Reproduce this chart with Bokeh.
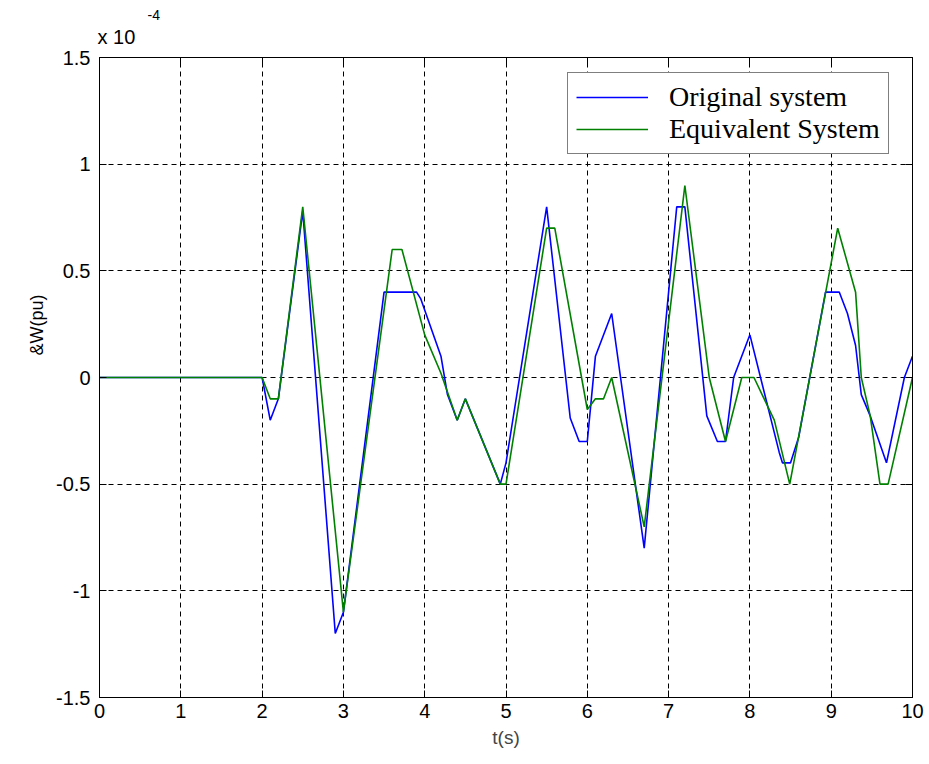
from bokeh.plotting import figure
from bokeh.models import (LinearAxis, FixedTicker, Legend, LegendItem,
                          Range1d, Title)
from bokeh.embed import file_html
from bokeh.resources import INLINE

# values in units of 1e-4 pu
t_orig = [0, 2.0, 2.1, 2.2, 2.5, 2.9, 3.0, 3.5, 3.9, 3.95, 4.2, 4.28, 4.4, 4.5,
          4.93, 5.0, 5.5, 5.79, 5.9, 6.0, 6.05, 6.1, 6.3, 6.7, 7.1, 7.2, 7.47,
          7.6, 7.7, 7.8, 8.0, 8.36, 8.4, 8.5, 8.6, 8.93, 9.1, 9.2, 9.3, 9.37,
          9.48, 9.68, 9.9, 10.0]
w_orig = [0, 0, -0.2, -0.1, 0.78, -1.2, -1.1, 0.4, 0.4, 0.37, 0.1, -0.08, -0.2,
          -0.1, -0.5, -0.4, 0.8, -0.19, -0.3, -0.3, -0.1, 0.1, 0.3, -0.8, 0.8,
          0.8, -0.18, -0.3, -0.3, 0.0, 0.2, -0.35, -0.4, -0.4, -0.28, 0.4, 0.4,
          0.3, 0.15, -0.08, -0.18, -0.4, 0.0, 0.1]

t_eq = [0, 2.0, 2.1, 2.2, 2.5, 3.0, 3.6, 3.72, 4.0, 4.2, 4.4, 4.5, 4.93, 5.0,
        5.5, 5.6, 6.0, 6.1, 6.2, 6.3, 6.7, 7.2, 7.5, 7.7, 7.9, 8.05, 8.2, 8.3,
        8.49, 9.08, 9.3, 9.37, 9.48, 9.6, 9.7, 10.0]
w_eq = [0, 0, -0.1, -0.1, 0.8, -1.1, 0.6, 0.6, 0.2, 0.02, -0.2, -0.1, -0.5,
        -0.5, 0.7, 0.7, -0.15, -0.1, -0.1, 0.0, -0.7, 0.9, 0.0, -0.3, 0.0, 0.0,
        -0.12, -0.2, -0.5, 0.7, 0.4, 0.0, -0.18, -0.5, -0.5, 0.0]

x_ticks = [0, 1, 2, 3, 4, 5, 6, 7, 8, 9, 10]
y_ticks = [-1.5, -1, -0.5, 0, 0.5, 1, 1.5]
y_tick_labels = ["-1.5", "-1", "-0.5", "0", "0.5", "1", "1.5"]

SANS = "Liberation Sans"
SERIF = "Liberation Serif"

p = figure(width=929, height=764, output_backend="svg", toolbar_location=None,
           x_range=Range1d(0, 10), y_range=Range1d(-1.5, 1.5),
           min_border_left=99, min_border_right=17, min_border_top=57,
           min_border_bottom=67)
p.background_fill_color = "white"
p.border_fill_color = "white"
p.outline_line_color = "black"
p.outline_line_width = 1

# axes
xa = p.xaxis[0]
ya = p.yaxis[0]
xa.ticker = FixedTicker(ticks=x_ticks)
ya.ticker = FixedTicker(ticks=y_ticks)
ya.major_label_overrides = {v: s for v, s in zip(y_ticks, y_tick_labels)}
for ax in (xa, ya):
    ax.major_tick_in = 7
    ax.major_tick_out = 0
    ax.minor_tick_in = 0
    ax.minor_tick_out = 0
    ax.axis_line_color = "black"
    ax.major_tick_line_color = "black"
    ax.major_label_text_font = SANS
    ax.major_label_text_font_size = "20px"
    ax.major_label_text_color = "black"
xa.major_label_standoff = 6
ya.major_label_standoff = 9
xa.axis_label = "t(s)"
xa.axis_label_text_font = SANS
xa.axis_label_text_font_style = "normal"
xa.axis_label_text_font_size = "19px"
xa.axis_label_standoff = 6

for loc, tk in (("above", x_ticks), ("right", y_ticks)):
    ax = LinearAxis(ticker=FixedTicker(ticks=tk), major_tick_in=7,
                    major_tick_out=0, minor_tick_in=0, minor_tick_out=0,
                    major_label_text_alpha=0.0,
                    major_label_text_font_size="1px",
                    axis_line_color="black", major_tick_line_color="black",
                    major_label_standoff=0)
    p.add_layout(ax, loc)

# exponent and y label as titles
p.add_layout(Title(text="x 10", align="left", offset=-2, standoff=20,
                   text_font=SANS, text_font_size="20px",
                   text_font_style="normal", text_color="black"), "above")
p.add_layout(Title(text="-4", align="left", offset=48, standoff=-13,
                   text_font=SANS, text_font_size="14px",
                   text_font_style="normal", text_color="black"), "above")
p.add_layout(Title(text="&W(pu)", align="left", offset=342, standoff=14,
                   text_font=SANS, text_font_size="18px",
                   text_font_style="normal", text_color="black"), "left")

# grid
for g in (p.xgrid[0], p.ygrid[0]):
    g.grid_line_color = "black"
    g.grid_line_dash = "5 4"
    g.grid_line_width = 1
    g.grid_line_alpha = 1.0

r1 = p.line(t_orig, w_orig, line_color="#0000FF", line_width=1.6)
r2 = p.line(t_eq, w_eq, line_color="#008000", line_width=1.6)

legend = Legend(items=[LegendItem(label="Original system", renderers=[r1]),
                       LegendItem(label="Equivalent System", renderers=[r2])],
                location=(468, 543))
legend.label_text_font = SERIF
legend.label_text_font_size = "28px"
legend.label_text_color = "black"
legend.glyph_width = 72
legend.label_standoff = 21
legend.padding = 8
legend.spacing = 0
legend.margin = 0
legend.border_line_color = "black"
legend.border_line_width = 1.2
legend.background_fill_alpha = 1.0
p.add_layout(legend, "center")

open("out.html", "w").write(file_html(p, INLINE))
